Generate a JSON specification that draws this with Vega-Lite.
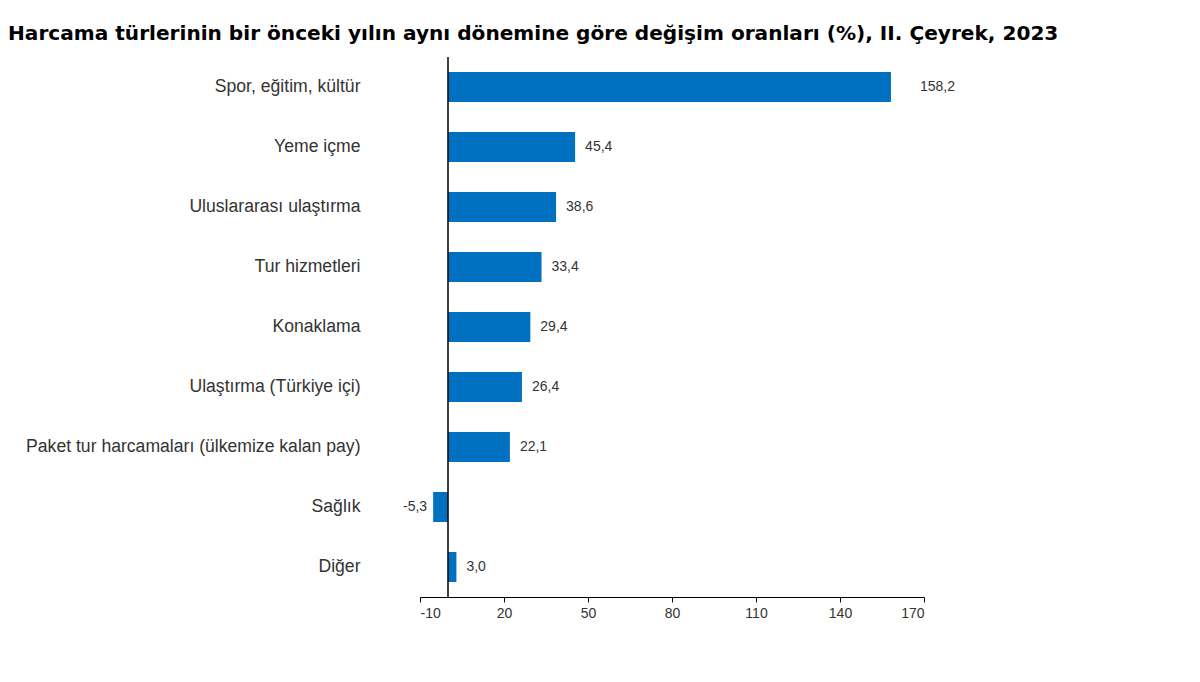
{
  "$schema": "https://vega.github.io/schema/vega-lite/v6.json",
  "autosize": {"type": "none"},
  "width": 504,
  "height": 540,
  "padding": {"left": 420, "top": 57, "right": 276, "bottom": 85},
  "background": "white",
  "config": {
    "view": {"stroke": null},
    "font": "Liberation Sans",
    "locale": {
      "number": {"decimal": ",", "thousands": ".", "grouping": [3], "currency": ["", " TL"], "minus": "-"}
    }
  },
  "title": {
    "text": "Harcama türlerinin bir önceki yılın aynı dönemine göre değişim oranları (%), II. Çeyrek, 2023",
    "anchor": "start",
    "frame": "group",
    "dx": -412,
    "dy": 20,
    "offset": 16,
    "baseline": "alphabetic",
    "font": "DejaVu Sans",
    "fontSize": 20.1,
    "fontWeight": "bold",
    "color": "#000000"
  },
  "data": {
    "values": [
      {"kategori": "Spor, eğitim, kültür", "deger": 158.2},
      {"kategori": "Yeme içme", "deger": 45.4},
      {"kategori": "Uluslararası ulaştırma", "deger": 38.6},
      {"kategori": "Tur hizmetleri", "deger": 33.4},
      {"kategori": "Konaklama", "deger": 29.4},
      {"kategori": "Ulaştırma (Türkiye içi)", "deger": 26.4},
      {"kategori": "Paket tur harcamaları (ülkemize kalan pay)", "deger": 22.1},
      {"kategori": "Sağlık", "deger": -5.3},
      {"kategori": "Diğer", "deger": 3.0}
    ]
  },
  "layer": [
    {
      "mark": {"type": "bar", "color": "#0070C0"},
      "encoding": {
        "y": {
          "field": "kategori",
          "type": "nominal",
          "sort": null,
          "scale": {"paddingInner": 0.5, "paddingOuter": 0.25},
          "axis": {
            "title": null,
            "domain": false,
            "ticks": false,
            "labelPadding": 60,
            "labelFontSize": 17.6,
            "labelColor": "#333333",
            "labelLimit": 420
          }
        },
        "x": {
          "field": "deger",
          "type": "quantitative",
          "scale": {"domain": [-10, 170], "nice": false, "zero": false},
          "axis": {
            "values": [-10, 20, 50, 80, 110, 140, 170],
            "title": null,
            "grid": false,
            "domainColor": "#000000",
            "tickColor": "#000000",
            "tickSize": 5,
            "labelFontSize": 14,
            "labelColor": "#333333",
            "labelPadding": 4
          }
        }
      }
    },
    {
      "data": {"values": [{}]},
      "mark": {"type": "rule", "color": "#000000", "strokeWidth": 1.5},
      "encoding": {"x": {"datum": 0, "type": "quantitative"}}
    },
    {
      "transform": [{"filter": "datum.deger > 0 && datum.deger < 100"}],
      "mark": {"type": "text", "align": "left", "dx": 10, "fontSize": 14, "color": "#333333"},
      "encoding": {
        "y": {"field": "kategori", "type": "nominal", "sort": null},
        "x": {"field": "deger", "type": "quantitative"},
        "text": {"field": "deger", "type": "quantitative", "format": ".1f"}
      }
    },
    {
      "transform": [{"filter": "datum.deger >= 100"}],
      "mark": {"type": "text", "align": "left", "dx": 29, "fontSize": 14, "color": "#333333"},
      "encoding": {
        "y": {"field": "kategori", "type": "nominal", "sort": null},
        "x": {"field": "deger", "type": "quantitative"},
        "text": {"field": "deger", "type": "quantitative", "format": ".1f"}
      }
    },
    {
      "transform": [{"filter": "datum.deger < 0"}],
      "mark": {"type": "text", "align": "right", "dx": -6, "fontSize": 14, "color": "#333333"},
      "encoding": {
        "y": {"field": "kategori", "type": "nominal", "sort": null},
        "x": {"field": "deger", "type": "quantitative"},
        "text": {"field": "deger", "type": "quantitative", "format": ".1f"}
      }
    }
  ]
}
